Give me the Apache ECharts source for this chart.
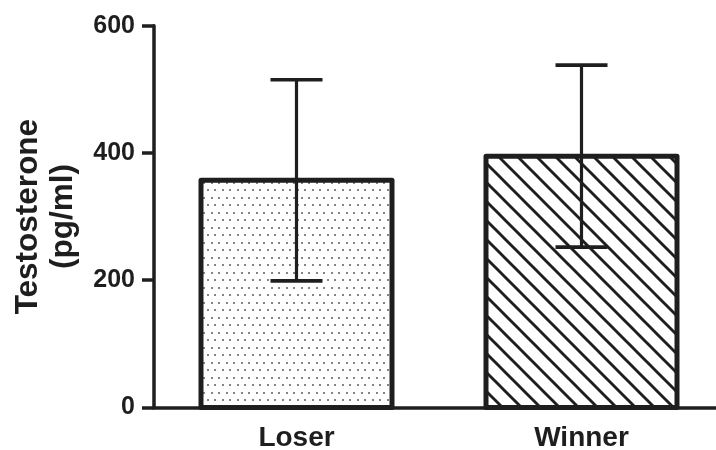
<!DOCTYPE html>
<html>
<head>
<meta charset="utf-8">
<script src="https://cdn.jsdelivr.net/npm/echarts@6/dist/echarts.min.js"></script>
<style>
  html, body { margin: 0; padding: 0; background: #ffffff; }
  #chart { width: 716px; height: 450px; }
</style>
</head>
<body>
<div id="chart"></div>
<script>
// Group labels, mean testosterone and SD (pg/ml)
const categories = ['Loser', 'Winner'];
const means = [357, 395];
const sds = [158, 143];
const yTicks = [0, 200, 400, 600];

const INK = '#1e1e1e';
const FONT = '"Liberation Sans", Arial, Helvetica, sans-serif';
const BAR_W = 191;

// Staggered stipple fill for the first bar
function dotPattern() {
  const c = document.createElement('canvas');
  c.width = 15; c.height = 15;
  const g = c.getContext('2d');
  g.fillStyle = '#ffffff';
  g.fillRect(0, 0, c.width, c.height);
  g.fillStyle = '#858585';
  [[1, 2], [8, 2], [4, 9], [12, 9]].forEach(p => g.fillRect(p[0], p[1], 2, 2));
  return c;
}

// Diagonal hatching for the second bar
function hatchPattern() {
  const s = 19;
  const c = document.createElement('canvas');
  c.width = s; c.height = s;
  const g = c.getContext('2d');
  g.fillStyle = '#ffffff';
  g.fillRect(0, 0, s, s);
  g.strokeStyle = INK;
  g.lineWidth = 2.9;
  [-s, 0, s].forEach(k => {
    g.beginPath();
    g.moveTo(k - 1, -1);
    g.lineTo(k + s + 1, s + 1);
    g.stroke();
  });
  return c;
}

const fills = [
  { image: dotPattern(), repeat: 'repeat' },
  { image: hatchPattern(), repeat: 'repeat' }
];

const chart = echarts.init(document.getElementById('chart'), null, { renderer: 'canvas' });

chart.setOption({
  backgroundColor: '#ffffff',
  animation: false,
  grid: { left: 154, top: 25.7, bottom: 42.5, width: 570, containLabel: false, outerBoundsMode: 'none' },
  xAxis: {
    type: 'category',
    data: categories,
    axisLine: { lineStyle: { color: INK, width: 3.5 } },
    axisTick: { alignWithLabel: true, length: 12, lineStyle: { color: INK, width: 3.5 } },
    axisLabel: { color: INK, fontFamily: FONT, fontWeight: 'bold', fontSize: 28, margin: 17 },
    splitLine: { show: false }
  },
  yAxis: {
    type: 'value',
    min: yTicks[0],
    max: yTicks[yTicks.length - 1],
    interval: yTicks[1] - yTicks[0],
    name: 'Testosterone\n(pg/ml)',
    nameLocation: 'middle',
    nameRotate: 90,
    nameGap: 73,
    nameTextStyle: { color: INK, fontFamily: FONT, fontWeight: 'bold', fontSize: 31.5, lineHeight: 35 },
    axisLine: { show: true, lineStyle: { color: INK, width: 3.5 } },
    axisTick: { show: true, length: 12, lineStyle: { color: INK, width: 3.5 } },
    axisLabel: { color: INK, fontFamily: FONT, fontWeight: 'bold', fontSize: 25, margin: 19 },
    splitLine: { show: false }
  },
  series: [
    {
      // Bars with the outline centred on the mean value
      type: 'custom',
      z: 2,
      data: means.map((m, i) => [i, m]),
      renderItem: function (params, api) {
        const top = api.coord([api.value(0), api.value(1)]);
        const base = api.coord([api.value(0), 0]);
        return {
          type: 'rect',
          shape: { x: top[0] - BAR_W / 2, y: top[1], width: BAR_W, height: base[1] - top[1] },
          style: { fill: fills[params.dataIndex], stroke: INK, lineWidth: 5, lineJoin: 'round' }
        };
      }
    },
    {
      // Error bars: mean ± SD
      type: 'custom',
      z: 5,
      data: means.map((m, i) => [i, m - sds[i], m + sds[i]]),
      renderItem: function (params, api) {
        const lo = api.coord([api.value(0), api.value(1)]);
        const hi = api.coord([api.value(0), api.value(2)]);
        const half = 26;
        const cap = { stroke: INK, lineWidth: 3.6 };
        return {
          type: 'group',
          children: [
            { type: 'line', shape: { x1: hi[0], y1: hi[1], x2: lo[0], y2: lo[1] }, style: { stroke: INK, lineWidth: 3.2 } },
            { type: 'line', shape: { x1: hi[0] - half, y1: hi[1], x2: hi[0] + half, y2: hi[1] }, style: cap },
            { type: 'line', shape: { x1: lo[0] - half, y1: lo[1], x2: lo[0] + half, y2: lo[1] }, style: cap }
          ]
        };
      }
    }
  ]
});
</script>
</body>
</html>
